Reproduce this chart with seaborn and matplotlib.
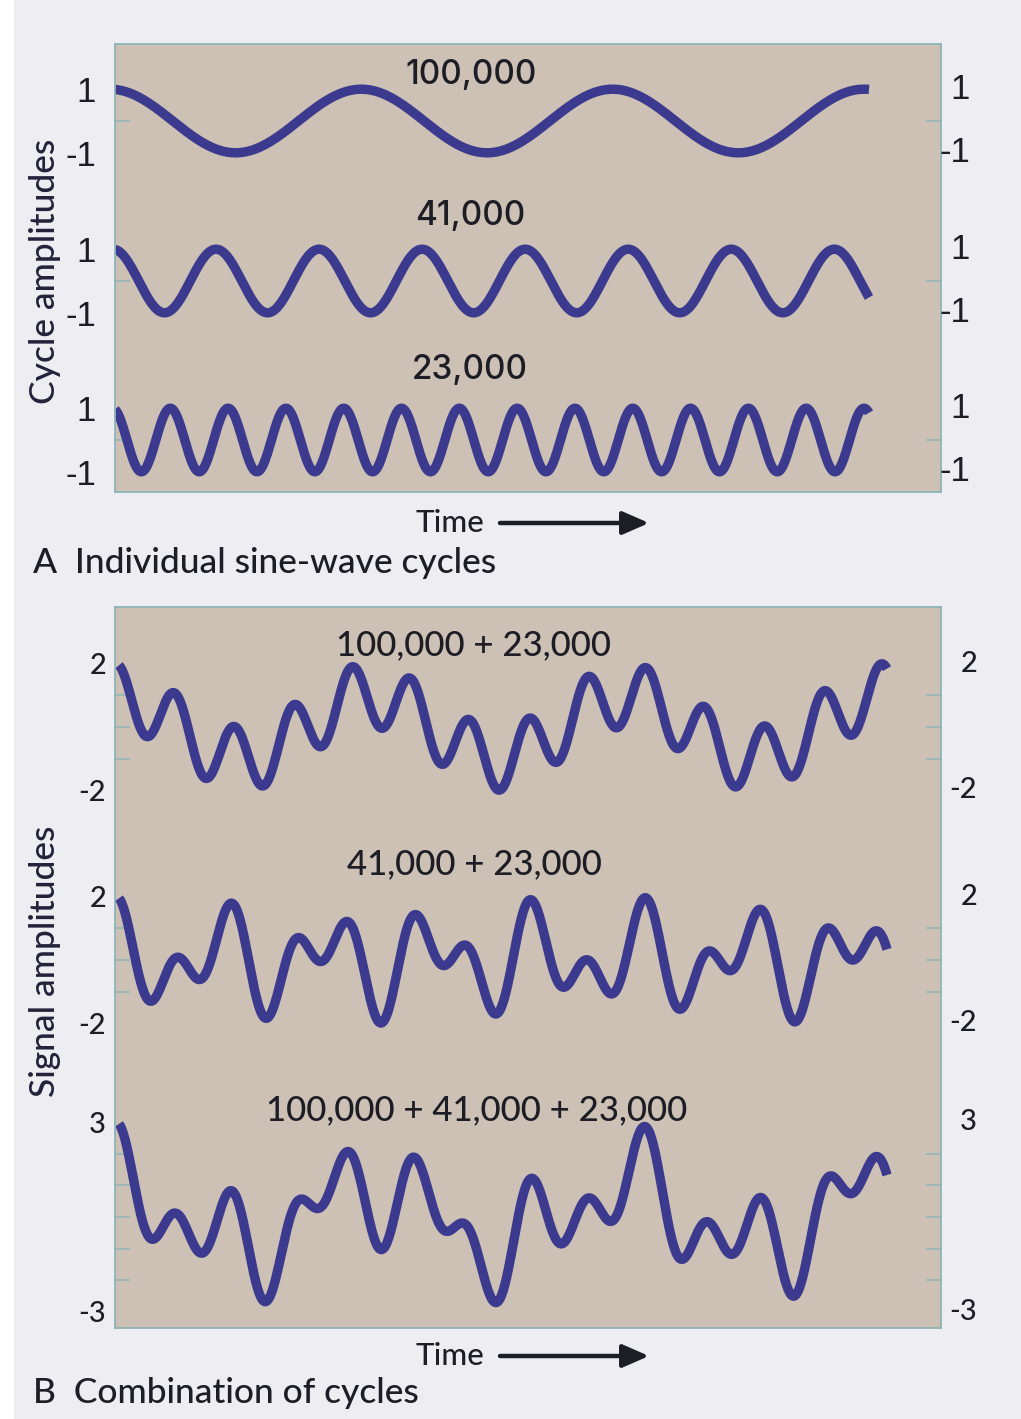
import numpy as np
import pandas as pd
import matplotlib
matplotlib.use("Agg")
import matplotlib.pyplot as plt
from matplotlib import font_manager
from matplotlib.patches import Rectangle, FancyArrowPatch
from matplotlib.transforms import blended_transform_factory
import seaborn as sns

# ---- cycle definitions ---------------------------------------------------
cycle_periods_yr = [100_000, 41_000, 23_000]
cycle_peak_kyr = [-2.0, -0.8, -1.0]          # time of one maximum of each cycle
cycle_names = ["100,000", "41,000", "23,000"]

combo_members = [(0, 2), (1, 2), (0, 1, 2)]
combo_names = ["100,000 + 23,000", "41,000 + 23,000", "100,000 + 41,000 + 23,000"]

single_scale = [1, 1, 1]      # amplitude marked beside each band of panel A
combo_scale = [2, 2, 3]       # amplitude marked beside each band of panel B

time_kyr = np.linspace(0, 300, 1501)

# ---- styling ---------------------------------------------------------------
W, H, DPI = 1021, 1419, 100
PAGE = "#eeedf2"
PANEL = "#ccc1b4"
EDGE = "#8fb3b7"
WAVE = "#3c3a8e"
INK = "#1d1d26"


def pick(*names):
    for n in names:
        try:
            font_manager.findfont(font_manager.FontProperties(family=n),
                                  fallback_to_default=False)
            return n
        except Exception:
            continue
    return "DejaVu Sans"


NARROW = pick("Liberation Sans Narrow", "Liberation Sans")
PLAIN = pick("Inter", "Liberation Sans")
HUMAN = pick("Lato", "Open Sans")

sns.set_style("white")
plt.rcParams["font.family"] = [PLAIN, "DejaVu Sans"]


def cycle(i):
    period_kyr = cycle_periods_yr[i] / 1000.0
    return np.cos(2 * np.pi * (time_kyr - cycle_peak_kyr[i]) / period_kyr)


singles = [cycle(i) for i in range(len(cycle_periods_yr))]
combos = [sum(singles[i] for i in members) for members in combo_members]

fig = plt.figure(figsize=(W / DPI, H / DPI), dpi=DPI, facecolor=PAGE)
fig.add_artist(Rectangle((0, 0), 14 / W, 1, transform=fig.transFigure,
                         facecolor="white", edgecolor="none", zorder=-5))


def fx(x):
    return x / W


def fy(y):
    return 1 - y / H


def make_panel(box, curve_px, centers, unit, curves, scales,
               font, size, weight, left_gap, right_x):
    x0, y0, x1, y1 = box
    ax = fig.add_axes([x0 / W, 1 - y1 / H, (x1 - x0) / W, (y1 - y0) / H])
    ax.set_facecolor(PANEL)
    ppk = (curve_px[1] - curve_px[0]) / (time_kyr[-1] - time_kyr[0])
    ax.set_xlim(time_kyr[0] - (curve_px[0] - x0) / ppk,
                time_kyr[0] + (x1 - curve_px[0]) / ppk)
    ax.set_ylim(-(y1 - y0) / unit, 0)
    offsets = [-(c - y0) / unit for c in centers]

    frames = [pd.DataFrame({"time": time_kyr, "level": vals + off, "band": k})
              for k, (vals, off) in enumerate(zip(curves, offsets))]
    df = pd.concat(frames, ignore_index=True)
    sns.lineplot(data=df, x="time", y="level", units="band", estimator=None,
                 color=WAVE, lw=6.8, ax=ax, legend=False, sort=False)
    for ln in ax.lines:
        ln.set_solid_capstyle("butt")
        ln.set_solid_joinstyle("round")
    ax.set_xlabel("")
    ax.set_ylabel("")

    major_pos, major_lab, minor_pos = [], [], []
    for off, s in zip(offsets, scales):
        major_pos += [off + s, off - s]
        major_lab += [f"{s}", f"-{s}"]
        minor_pos += list(off + np.arange(s, -s, -1))
    ax.set_xticks([])
    ax.set_yticks(major_pos, major_lab)
    ax.set_yticks(minor_pos, minor=True)
    ax.tick_params(axis="y", which="major", length=0, pad=left_gap * 72 / DPI,
                   labelsize=size, labelcolor=INK, left=False, right=False)
    ax.tick_params(axis="y", which="minor", direction="in",
                   length=15 * 72 / DPI, width=1.1, color=EDGE,
                   left=True, right=True)
    for lab in ax.get_yticklabels():
        lab.set_fontfamily(font)
        lab.set_fontweight(weight)

    tr = blended_transform_factory(fig.transFigure, ax.transData)
    for p, l in zip(major_pos, major_lab):
        ax.text(right_x / W, p, l, transform=tr, ha="right", va="center",
                fontsize=size, family=font, fontweight=weight, color=INK)

    for sp in ax.spines.values():
        sp.set_visible(True)
        sp.set_color(EDGE)
        sp.set_linewidth(1.3)
    return ax


ax_a = make_panel((115, 44, 941, 492), (115, 869), (121, 281, 440), 31.8,
                  singles, single_scale, NARROW, 25, "normal", 19, 970)
ax_b = make_panel((115, 607, 941, 1328), (119, 887), (727, 960, 1217), 31.6,
                  combos, combo_scale, HUMAN, 21, "medium", 9, 977)

# band titles
for name, (x, y) in zip(cycle_names, [(471, 75), (470, 216), (470, 370)]):
    fig.text(fx(x), fy(y), name, ha="center", va="center",
             fontsize=24, family=PLAIN, fontweight="medium", color=INK)
for name, (x, y) in zip(combo_names, [(473, 645), (474, 864), (477, 1110)]):
    fig.text(fx(x), fy(y), name, ha="center", va="center",
             fontsize=25, family=HUMAN, fontweight="medium", color=INK)

# vertical axis titles
fig.text(fx(45), fy(271), "Cycle amplitudes", rotation=90, ha="center",
         va="center", fontsize=25.5, family=HUMAN, fontweight="medium",
         color="#22223a")
fig.text(fx(45), fy(961), "Signal amplitudes", rotation=90, ha="center",
         va="center", fontsize=25.5, family=HUMAN, fontweight="medium",
         color="#22223a")

# time arrows and panel captions
for base_y, arrow_y in [(532, 523), (1365, 1356)]:
    fig.text(fx(415), fy(base_y), "Time", ha="left", va="baseline",
             fontsize=22.5, family=HUMAN, fontweight="medium", color=INK)
    fig.add_artist(FancyArrowPatch(
        (fx(500), fy(arrow_y)), (fx(649), fy(arrow_y)),
        transform=fig.transFigure,
        arrowstyle="-|>,head_length=0.8,head_width=0.35",
        mutation_scale=20, lw=3.2, color=INK, shrinkA=0, shrinkB=0))

fig.text(fx(33), fy(573), "A  Individual sine-wave cycles", ha="left",
         va="baseline", fontsize=25.5, family=HUMAN, fontweight="medium",
         color=INK)
fig.text(fx(33), fy(1403), "B  Combination of cycles", ha="left",
         va="baseline", fontsize=25.5, family=HUMAN, fontweight="medium",
         color=INK)

fig.savefig("out.png", dpi=DPI, facecolor=PAGE)
